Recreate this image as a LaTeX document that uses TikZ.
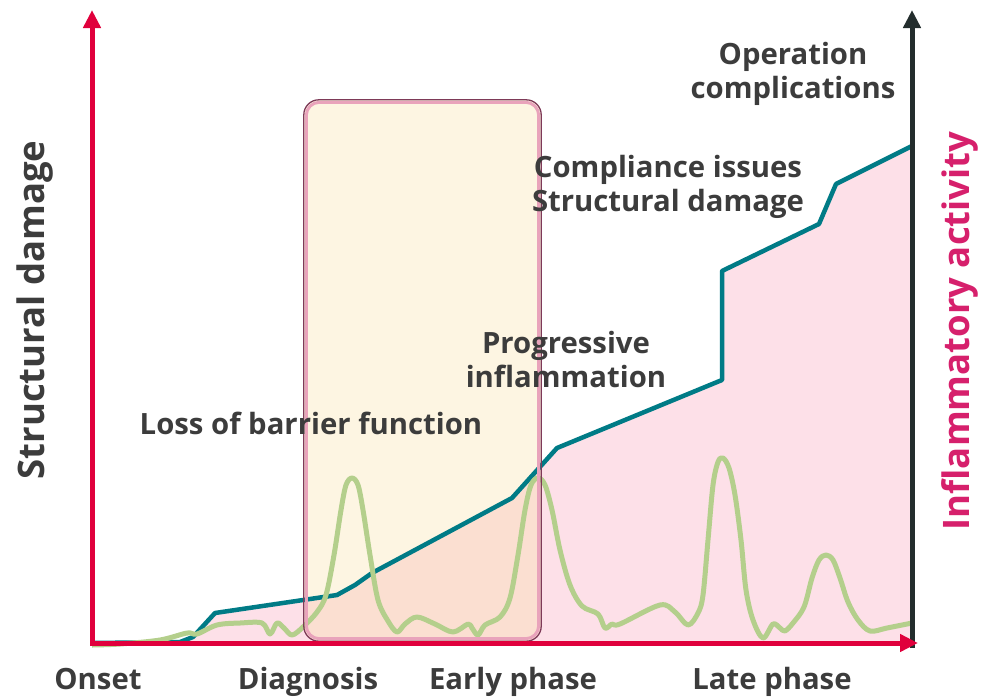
\documentclass[tikz,border=0pt]{standalone}
\usepackage{fontspec}
\setmainfont{Open Sans}
\usetikzlibrary{arrows.meta,positioning}

\definecolor{axisred}{HTML}{E0003C}
\definecolor{axisdark}{HTML}{232D2D}
\definecolor{tealline}{HTML}{007B86}
\definecolor{greenline}{HTML}{B4CF8C}
\definecolor{pinkfill}{HTML}{FDE0E8}
\definecolor{earlyfill}{HTML}{F8DE9E}
\definecolor{boxedge}{HTML}{7E3A58}
\definecolor{boxglow}{HTML}{E9A3BB}
\definecolor{txtgray}{HTML}{3C3C3C}
\definecolor{magentatxt}{HTML}{D6206C}

\begin{document}
\begin{tikzpicture}[x=1pt,y=-1pt]
				\tikzset{lbl/.style={font=\bfseries\fontsize{29.3}{34}\selectfont,text=txtgray,align=center,inner sep=0pt},
					sidelbl/.style={lbl,rotate=90,font=\bfseries\fontsize{36.5}{40}\selectfont},
					phase/.style={lbl,anchor=base},
					axis/.style={line width=5pt,-{Triangle[width=17pt,length=18pt]}}}
				\useasboundingbox (0,0) rectangle (982,697);
				% axes corners
				\coordinate (origin) at (92,643);
				\coordinate (ytop) at (92,10);
				\coordinate (xend) at (918,643);
				\coordinate (rbottom) at (912,648);
				\coordinate (rtop) at (912,10);
				% damage area
				\fill[pinkfill] (origin) -- (180,642) -- (193,637) -- (215,613) -- (337,595) -- (355,585) -- (372,573)
					-- (512,498) -- (557,448) -- (722,380) -- (722,271) -- (819,224) -- (836,184) -- (912,146) -- (912,643) -- cycle;
				% early phase window
				\node [fill=earlyfill,fill opacity=0.3,rounded corners=15pt,minimum width=237pt,minimum height=541pt,inner sep=0pt] (window) at (422.5,370.5) {};
				\draw[tealline,line width=4.5pt,line join=round] (origin) -- (180,642) -- (193,637) -- (215,613) -- (337,595) -- (355,585) -- (372,573)
					-- (512,498) -- (557,448) -- (722,380) -- (722,271) -- (819,224) -- (836,184) -- (912,146);
				\draw[greenline,line width=5pt,line join=round] plot[smooth,tension=0.55] coordinates {
					(92,645) (120,644) (160,640) (187,633) (197,634) (217,625) (240,623) (262,623) (270,634) (277,623) (284,628)
					(292,635) (303,627) (317,612) (326,595) (334,555) (341,510) (346,485) (352,478) (358,485) (363,510) (370,555)
					(378,600) (388,621) (397,632) (405,624) (417,617) (435,624) (453,632) (468,624) (472,628) (478,635) (485,625)
					(500,617) (510,598) (518,555) (525,510) (531,485) (538,478) (545,485) (552,510) (560,550) (570,585) (582,606)
					(598,614) (605,628) (612,624) (620,624) (660,605) (675,612) (688,625) (698,613) (703,595) (708,540) (713,485)
					(718,462) (723,458) (729,468) (735,495) (741,540) (746,590) (753,620) (763,638) (773,624) (780,628) (785,631)
					(793,623) (804,607) (812,578) (819,560) (826,555) (833,560) (840,578) (848,602) (858,620) (870,631) (887,628) (912,623)};
				\draw[boxglow,line width=3pt,rounded corners=13pt] ([shift={(2.5,2.5)}]window.north west) rectangle ([shift={(-2.5,-2.5)}]window.south east);
				\draw[boxedge,line width=1.3pt,rounded corners=15pt] (window.north west) rectangle (window.south east);
				\draw[axis,axisdark] (rbottom) -- (rtop);
				\draw[axis,axisred] (origin) -- (ytop);
				\draw[axis,axisred] (90,643) -- (xend);
				% labels
				\node [sidelbl] (damage) at (35,310) {Structural damage};
				\node [sidelbl,text=magentatxt] (activity) at (960,331) {Inflammatory activity};
				\node [lbl] (operation) at (793,74) {Operation\\complications};
				\node [lbl] (compliance) at (668,187) {Compliance issues\\Structural damage};
				\node [lbl] (progressive) at (566,360) {Progressive\\inflammation};
				\node [lbl] (barrier) at (311,423) {Loss of barrier function};
				\node [phase] (onset) at (98,689) {Onset};
				\node [phase] (diagnosis) at (308,689) {Diagnosis};
				\node [phase] (early) at (513,689) {Early phase};
				\node [phase] (late) at (772,689) {Late phase};
			\end{tikzpicture}
\end{document}
